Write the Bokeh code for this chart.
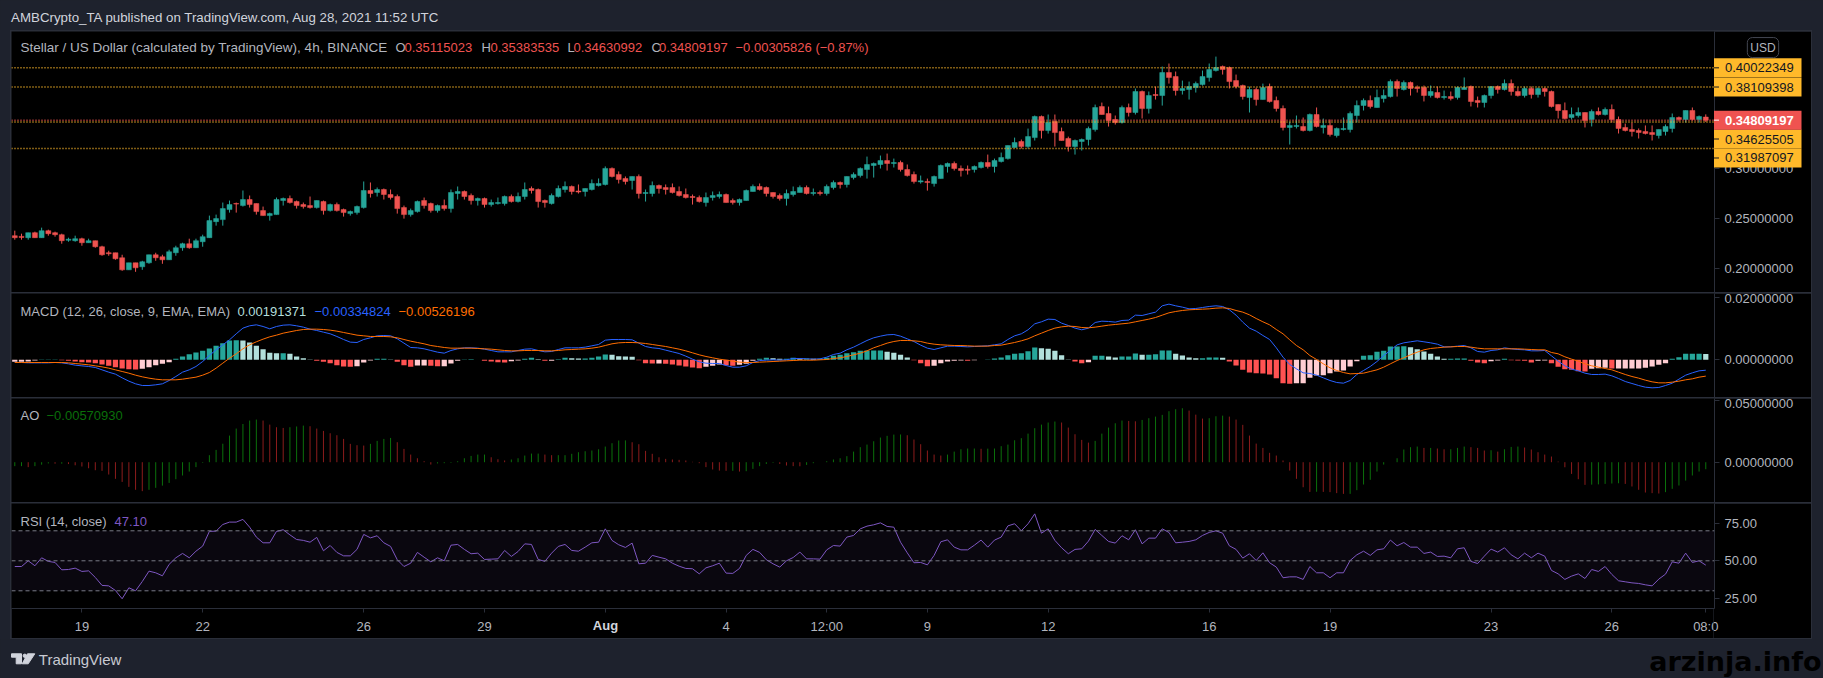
from bokeh.plotting import figure
from bokeh.core.properties import value
from bokeh.models import Range1d, Label, Span, BoxAnnotation, FixedTicker, PrintfTickFormatter, ColumnDataSource, Column
from bokeh.embed import file_html
from bokeh.resources import INLINE

# ---- price data, thousandths of a dollar, one entry per 4h bar ----
open_mil = [233,232.3,231,236,231,238,236,234,228.5,228,230,226,228,222,216,216,211,199,206,202,206,214,212,209,216,221,225,221,227,231,247,249,259,265,263,269,265,258,253,254,268,270,267,264,263,261,267,258,264,259,255,256,261,278,276,279,274,272,261,254,257,268,265,258,
263,260,275,277,273,268,270,264,265,265,272,267,272,280,279,268,265,272,279,282,277.5,277,279,283,284,300,294,290,288,292,275,275,283,281,281,277,274,272,271,266,271,272,274,268,266,268,277,282,281,276,273,270,274,276,281,275,276,275,281,286,284,291,293,
298.9,302.9,303.9,307.8,304.9,305.9,298.9,293.9,286.6,286.9,284.9,289.9,301.9,304.9,299.9,299.2,298.9,300.9,305.9,301.9,306.9,309.8,320.8,326.8,321.8,330.7,351.7,337.7,346.7,336.7,329.8,321.8,326.8,328.8,338.7,361.6,354.7,348.7,345.7,360.6,355.7,376.6,359.6,373.6,372.6,395.5,391.5,377.6,378.6,380.5,383.5,390.5,397.5,401.5,400.5,387.5,382.5,370.6,378.6,368.6,381.5,367.7,359.7,
340.8,341.8,341.8,337.8,353.7,340.8,342.8,332.8,338.8,338.8,352.7,362.7,367.7,360.7,369.6,371.6,386.6,378.6,385.6,380.6,380.6,372.6,375.6,370.6,371.6,370.6,378.6,381.6,367.7,365.7,372.6,381.6,378.6,384.6,376.6,372.6,379.6,373.6,379.6,376.6,363.7,357.7,350.7,352.7,355.7,348.7,356.7,353.7,358.7,348.7,340.8,338.8,337.8,336.8,335.8,332.8,336.8,339.8,350.7,348.7,357.7,348.7,351.15]
high_mil = [238,235,236,237,241,239,237,235,231,233,231,230,228,223,218,216,214,206,206,208,214,216,214,219,223,226,230,230,234,253,254,266,268,266,278,273,265,262,256,271,271,273,268,266,272,268,268,265,266,260,258,263,287,286,281,280,279,274,263,260,268,271,266,264,
269,279,282,278,275,271,271,269,271,273,274,276,286,282,280,269,275,283,287,283,284,280,289,290,302,301,297,292,292,294,279,287,284,284,285,282,280,274,273,276,277,277,275,270,270,279,284,285,282,276,275,279,282,283,283,280,278,284,288,287,292,296,301,
311.8,305.9,312.8,314.8,309.8,307.8,303.9,296.9,292.9,289.9,292.9,303.9,305.9,306.9,302.9,302.9,302.9,306.9,313.8,309.8,315.8,322.8,330.7,328.8,339.7,352.7,352.7,353.7,353.7,340.7,331.7,328.8,329.8,341.7,363.6,365.6,361.6,352.7,362.6,364.6,379.6,377.6,376.6,381.5,401.5,404.5,396.5,387.5,386.5,386.5,397.5,404.5,411.4,402.5,401.5,393.5,383.5,381.5,380.5,384.5,384.5,371.6,362.7,
346.7,352.7,350.7,354.7,360.7,349.7,348.7,340.8,350.7,356.7,367.7,369.7,372.6,378.6,378.6,388.6,388.6,387.6,386.6,382.6,382.6,382.6,381.6,377.6,376.6,381.6,390.6,382.6,371.6,373.6,381.6,382.6,388.6,388.6,380.6,381.6,381.6,380.6,380.6,377.6,363.7,365.7,360.7,360.7,355.7,358.7,360.7,360.7,363.7,351.7,344.7,345.7,339.8,342.8,342.8,338.8,343.8,354.7,351.7,357.7,360.7,352.7,353.84]
low_mil = [229,229,229,231,231,233,232,225,227,227,223,226,221,213,213,209,198,199,197,199,205,208,205,209,213,218,220,221,222,231,243,243,256,256,262,261,254,253,248,254,263,265,260,260,260,260,254,257,257,252,253,254,260,271,272,269,269,255,250,252,256,260,256,256,
258,256,269,269,264,263,261,262,264,263,266,266,269,275,261,261,264,271,276,274,275,272,278,282,283,291,285,284,279,270,267,272,275,274,275,272,270,264,266,262,268,270,266,264,263,268,277,278,272,270,268,263,272,276,274,273,273,273,279,280,281,289,291,
289.9,290.9,299.9,297.9,300.9,296.9,291.9,284.9,284.9,277.9,281.9,289.9,295.9,297.9,291.9,293.9,295.9,299.9,299.9,295.9,305.9,308.8,320.8,319.8,319.8,327.8,329.8,334.7,321.8,327.8,316.8,313.8,317.8,322.8,336.7,353.7,341.7,343.7,344.7,351.7,353.7,349.7,354.7,368.6,362.6,384.5,372.6,373.6,368.6,375.6,382.5,386.5,396.5,393.5,379.6,379.6,368.6,355.7,362.6,368.6,365.6,356.7,337.8,
323.8,339.8,336.8,336.8,340.8,334.8,331.8,330.8,337.8,335.8,345.7,357.7,359.7,360.7,365.7,370.6,371.6,377.6,372.6,375.6,366.7,370.6,369.6,368.6,367.7,368.6,378.6,361.7,360.7,360.7,369.6,374.6,377.6,372.6,371.6,370.6,369.6,370.6,371.6,360.7,349.7,348.7,348.7,350.7,340.8,341.8,352.7,352.7,345.7,334.8,336.8,331.8,329.8,333.8,327.8,329.8,332.8,335.8,346.7,345.7,347.7,345.7,346.31]
close_mil = [231,231.3,236,231,238,235,234,228,229.5,230,226,228,222,214,215,210,199,206,201,207,214,211,209,217,221,225,221,228,232,248,250,260,264,264.5,269,264,257,253,255,269,270,266,263,262,261,268,258,264,258,256,257,262,278,275,279,274,271,260,254,258,267,263,258,263,
260,276,277,272,268,270,264,266,266,272,267,272,279,278,267,266,273,280,282,277,276.5,280,285,285,300,292,289,287,292,275,276,283,280,279,276,273,271,271,267,271,273,274,266,266,269,278,282,279,275,272,270,275,277,281,275,276,275,282,286,284,292,294,300,
303.9,304.9,307.8,304.9,305.9,298.9,292.9,286.9,287.6,285.9,291.9,302.9,304.9,299.9,297.9,298.2,301.9,305.9,301.9,307.8,310.8,322.8,325.8,321.8,331.7,351.7,337.7,345.7,335.7,327.8,321.8,327.8,328.8,339.7,360.6,353.7,347.7,345.7,360.6,355.7,376.6,359.6,372.6,372.6,395.5,390.5,377.6,379.6,381.5,384.5,391.5,398.5,400.5,398.5,386.5,381.5,371.6,378.6,368.6,380.5,366.6,359.7,340.8,
342.8,342.8,337.8,353.7,341.8,342.8,333.8,339.8,339.8,354.7,362.7,367.7,361.7,370.6,372.6,386.6,379.6,385.6,379.6,379.6,372.6,376.6,370.6,371.6,369.6,380.6,380.6,366.7,365.7,372.6,381.6,378.6,384.6,376.6,372.6,379.6,373.6,379.6,376.6,361.7,357.7,349.7,353.7,355.7,347.7,356.7,353.7,358.7,348.7,339.8,337.8,336.8,335.8,334.8,333.8,338.8,341.8,350.7,348.7,357.7,348.7,351.7,348.09]

# ---- MACD, units of 0.0001 ----
macd_line = [-8.6,-8.6,-9.7,-9.7,-9.7,-9.7,-8.6,-9.7,-12.9,-17.2,-19.4,-21.5,-24.7,-32.3,-39.8,-46.2,-58.1,-68.8,-77.4,-82.8,-82.8,-80.6,-77.4,-66.7,-53.8,-39.8,-32.3,-21.5,-5.4,14,32.3,48.4,64.5,83.9,102.2,109.7,112.9,107.5,100,107.5,111.8,112.9,109.7,105.4,98.9,94.6,89.2,83.9,75.3,65.6,57,55.9,65.6,71,77.4,78.5,77.4,67.7,53.8,39.8,38.7,35.5,30.1,24.7,21.5,30.1,35.5,38.7,38.7,37.6,34.4,30.1,25.8,25.8,25.8,30.1,34.4,35.5,30.1,25.8,26.9,33.3,38.7,38.7,38.7,40.9,45.2,49.5,63.4,65.6,65.6,65.6,64.5,53.8,43,38.7,36.6,31.2,25.8,20.4,11.8,2.2,-6.5,-10.8,-11.8,-11.8,-18.3,-23.7,-23.7,-19.4,-8.6,-2.2,-1.1,0,-1.1,0,4.3,4.3,3.2,2.2,3.2,8.6,17.2,21.5,32.3,40.9,51.6,62.4,71,76.3,80.6,81.7,
76.3,67.7,59.1,47.3,37.6,33.3,38.7,44.1,44.1,43,41.9,43,44.1,45.2,48.4,51.6,65.6,77.4,83.9,96.8,116.1,122.6,131.2,130.1,118.3,110.8,102.2,96.8,102.2,120.4,124.7,123.7,121.5,126.9,128,144.1,143,148.4,153.8,174.2,179.6,174.2,169.9,164.5,165.6,168.8,172,174.2,172,161.3,144.1,121.5,102.2,92.5,78.5,65.6,38.7,8.6,-15.1,-29,-41.9,-44.1,-49.5,-58.1,-66.7,-73.1,-75.3,-66.7,-47.3,-34.4,-21.5,-5.4,14,30.1,48.4,54.8,58.1,61.3,58.1,54.8,50.5,41.9,41.9,44.1,46.2,38.7,26.9,24.7,30.1,32.3,38.7,35.5,33.3,32.3,29,29,30.1,12.9,-4.3,-19.4,-30.1,-35.5,-43,-47.3,-47.3,-46.2,-51.6,-60.2,-69.9,-76.3,-82.8,-88.2,-90.3,-89.2,-82.8,-75.3,-62.4,-49.5,-41.9,-35.5,-33.5]
macd_signal = [-8.6,-8.6,-8.6,-8.6,-8.6,-8.6,-8.6,-8.6,-9.7,-11.8,-14,-16.1,-19.4,-22.6,-26.9,-32.3,-37.6,-43,-49.5,-54.8,-59.1,-62.4,-64.5,-64.5,-64.5,-62.4,-59.1,-55.9,-49.5,-40.9,-26.9,-10.8,5.4,19.4,35.5,48.4,58.1,66.7,74.2,79.6,86,90.3,94.6,97.8,98.9,98.9,97.8,95.7,92.5,88.2,83.9,79.6,77.4,75.3,75.3,75.3,74.2,71,65.6,60.2,55.9,51.6,46.2,43,39.8,37.6,37.6,37.6,37.6,36.6,35.5,34.4,32.3,30.1,29,29,30.1,30.1,30.1,29,29,30.1,32.3,33.3,34.4,35.5,37.6,40.9,46.2,51.6,54.8,55.9,55.9,54.8,52.7,49.5,46.2,43,38.7,34.4,29,22.6,16.1,10.8,6.5,2.2,-1.1,-4.3,-7.5,-8.6,-8.6,-7.5,-6.5,-5.4,-4.3,-3.2,-2.2,-1.1,-1.1,-1.1,0,1.1,4.3,6.5,10.8,16.1,21.5,29,38.7,46.2,53.8,59.1,
62.4,62.4,61.3,59.1,53.8,50.5,48.4,47.3,46.2,46.2,45.2,44.1,44.1,44.1,46.2,47.3,51.6,55.9,61.3,67.7,77.4,86,94.6,102.2,106.4,108.6,107.5,104.3,103.2,105.4,108.6,111.8,114,116.1,118.3,122.6,126.9,131.2,136.5,144.1,151.6,155.9,159.1,161.3,162.4,163.4,164.5,166.6,167.7,165.6,159.1,153.8,145.1,133.3,122.6,112.9,97.8,83.9,64.5,46.2,32.3,14,1.1,-12.9,-25.8,-34.4,-40.9,-45.2,-44.1,-43,-37.6,-32.3,-23.7,-12.9,-2.2,6.5,16.1,24.7,32.3,36.6,38.7,40.9,41.9,43,43,40.9,37.6,35.5,35.5,35.5,35.5,35.5,35.5,34.4,33.3,32.3,32.3,23.7,19.4,9.7,2.2,-4.3,-12.9,-19.4,-23.7,-28,-32.3,-39.8,-47.3,-53.8,-59.1,-65.6,-71,-74.2,-74.2,-72,-68.8,-64.5,-61.3,-55.9,-52.6]
macd_hist = [-6.5,-6.5,-5.4,-2.2,1.1,1.1,1.1,-1.1,-3.2,-5.4,-7.5,-8.6,-10.8,-15,-19.4,-23.7,-28,-30.1,-31.2,-29,-23.7,-17.2,-12.9,-7.5,3.2,10.8,18.3,23.7,29,36.6,45.2,53.8,62.4,63.4,62.4,55.9,45.2,34.4,22.6,21.5,21.5,19.4,10.8,5.4,1.1,-3.2,-6.5,-10.8,-17.2,-21.5,-22.6,-20.4,-8.6,-2.2,3.2,3.2,1.1,-6.5,-17.2,-22.6,-18.3,-18.3,-19.4,-20.4,-20.4,-11.8,-3.2,1.1,2.2,0,-3.2,-5.4,-7.5,-8.6,-4.3,-2.2,3.2,6.5,2.2,-3.2,-3.2,2.2,6.5,5.4,4.3,4.3,6.5,10.8,17.2,16.1,11.8,10.8,9.7,-1.1,-10.8,-11.8,-11.8,-12.9,-15,-18.3,-21.5,-24.7,-26.9,-22.6,-19.4,-15,-17.2,-19.4,-16.1,-12.9,-3.2,3.2,6.5,5.4,3.2,3.2,6.5,4.3,4.3,3.2,3.2,6.5,12.9,16.1,21.5,24.7,29,30.1,30.1,30.1,25.8,22.6,16.1,7.5,-1.1,-10.8,-20.4,-19.4,-10.8,-5.4,-3.2,-2.2,-3.2,-1.1,0,1.1,4.3,7.5,15,19.4,21.5,28,39.8,37.6,35.5,29,15,1.1,-5.4,-10.8,-7.5,12.9,12.9,10.8,7.5,10.8,10.8,20.4,16.1,16.1,18.3,30.1,30.1,19.4,14,7.5,5.4,5.4,7.5,7.5,6.5,-5.4,-18.3,-32.3,-40.9,-43,-44.1,-47.3,-59.1,-75.3,-77.4,-75.3,-75.3,-58.1,-50.5,-49.5,-43,-37.6,-34.4,-21.5,-4.3,12.9,15,25.8,29,43,43,44.1,40.9,34.4,26.9,19.4,10.8,3.2,3.2,4.3,4.3,-3.2,-8.6,-10.8,-4.3,-2.2,3.2,-1.1,-2.2,-3.2,-8.6,-3.2,-2.2,-10.8,-22.6,-30.1,-32.3,-36.6,-37.6,-29,-26.9,-25.8,-28,-28,-28,-28,-28,-25.8,-21.5,-16.1,-10.8,3.2,8.6,19.4,19.4,19.4,19.1]

# ---- Awesome Oscillator, units of 0.001 ----
ao_vals = [-3.2,-3.2,-4,-3.2,-2,-1,-1.2,-1.2,-1.5,-2.5,-3.5,-4.9,-6.5,-7,-10,-13.5,-16,-20,-22.4,-23.5,-22.4,-20.8,-19,-16.8,-13.8,-10.8,-7.6,-4,-0.5,5.7,10,15,21.6,27.3,31,33.8,34.6,33.8,30.5,28.4,27.8,28.4,29,29.7,29.2,27.3,25.4,23.5,21.9,18.9,14.9,13.8,13.5,14.9,17.3,18.9,19.7,16.2,10.8,6.2,3.2,0.8,-1.9,-1,-0.8,-0.5,0.8,3.2,5.1,6.2,6.2,4,2.4,1.4,2.2,3.2,5.4,7,7,6.2,5.7,5.7,5.7,6.8,8.1,8.9,9.5,10.5,12.7,15.4,17.6,17.7,16.2,14.6,9.2,6.8,4,2.7,2.2,1.9,1.4,0.3,-0.8,-4,-5.9,-6.8,-7,-7,-7.6,-7.3,-5.4,-3.2,-1.4,-0.5,-1.4,-2.7,-3.2,-3.3,-2.2,-0.8,0,0.8,2.2,3.2,4.9,8.6,12.2,14.3,17,20,21.4,22.4,22.5,
21.9,18.4,14.6,9.5,6.2,5.4,6.2,8.6,10.5,11.1,11.1,10.9,11,11.1,13,14.3,17.8,19.5,23.2,27.6,30.5,32.2,33,32.2,28.1,22.7,18.1,15.9,17.3,23.2,28.1,31.6,33.8,33.5,33.2,34.3,35.7,37,38.4,41.4,43,43.8,41.9,38.6,35.4,35.7,37.3,37.8,37,34.6,30.3,21.6,15.1,11.6,7.6,5.4,1.4,-6.8,-13.5,-20.3,-24.1,-24,-24.1,-24.3,-25.1,-25.7,-25.7,-22.7,-18.1,-14.3,-7.6,-1.9,0,3.2,10.3,12.2,12.7,11.6,11.6,11.1,10.5,10.5,11.6,12.7,12.2,11.6,9.5,9.7,8.6,10.5,12.4,12.7,11.9,10.3,8.1,6.2,4.6,0.5,-4.1,-9.5,-13.8,-18.4,-18.2,-18,-17.6,-17.3,-17.1,-17.6,-19.7,-22.4,-24.6,-25.1,-25.4,-24.3,-21.6,-18.9,-14.9,-10.8,-7.6,-5.7]

# ---- RSI ----
rsi_vals = [46.2,46.2,50,46.7,52,49.6,48.9,44,44.2,45.1,42.9,43.3,38.9,33.6,33.3,30.2,24.7,32,30,36.2,43.1,42,40,47.6,52,54.9,52,56.4,59.8,69.6,69.8,74.2,75.8,75.8,77.6,72.4,65.8,62,62,69.6,70.7,67.3,64.2,63.6,62.4,65.6,56.7,60.2,55.6,53.3,53.3,57.6,67.6,65.3,66.7,62,59.6,50.7,46.2,48.4,55.6,52.4,49.3,52,50,60.4,60.9,57.6,54.7,55.1,50.9,51.1,51.3,56.9,52.9,56.2,61.3,60.9,50.9,49.6,55.1,59.6,60.9,56.9,56.4,59.1,62,62.4,71.3,63.6,60.7,58.9,61.8,48,48.4,53.6,52.4,51.3,48.4,46.4,44.9,44.7,41.3,45.3,46.7,48.4,41.8,41.6,44.9,53.6,57.6,55.6,50.7,48,45.8,50,52.2,55.8,51.3,51.3,51.1,57.3,60.2,59.8,65.8,66.9,71.3,73.1,74,75.3,72.9,72.4,
62.4,55.3,48.7,48.9,47.3,53.6,62.7,64,59.1,57.3,57.3,60.4,63.8,59.1,63.8,65.8,73.3,74.7,70,74.7,81.3,68.4,71.3,63.6,58.7,54.7,57.6,58,63.1,70.9,66.9,62.9,61.8,66.7,64,70.7,61.3,65.1,65.1,71.3,68.9,62,62.4,62.9,64,66.9,68.9,70,68.4,60,57.6,51.8,54.7,50.2,55.3,48.7,45.8,38.7,39.3,39.3,37.6,46.2,42,42,38.7,42,42,50.2,54,56.4,53.6,57.3,58,63.8,60,62.2,59.1,59.1,54.9,55.8,52.9,53.1,52,58,58.7,49.6,48.2,53.1,57.8,55.8,58.7,54,51.3,55.1,52,55.1,53.1,43.6,41.3,37.6,39.8,41.3,38.2,44.2,42.9,46.2,40.9,36.7,36,35.3,34.9,34,33.3,37.8,41.1,49.3,48.4,55.1,48.9,50,47.1]

# ---- levels, ticks, labels ----
level_vals = [0.40022349, 0.38109398, 0.34625505, 0.31987097]
last_close = 0.34809197
tag_labels = ["0.40022349", "0.38109398", "0.34809197", "0.34625505", "0.31987097"]
tag_centres = [0.40022349, 0.38109398, 0.34809197, 0.3293, 0.3104]   # the price scale pushes the lower two tags apart
time_ticks = [10, 28, 52, 70, 88, 106, 121, 136, 154, 178, 196, 220, 238, 252]
time_labels = ["19", "22", "26", "29", "", "4", "12:00", "9", "12", "16", "19", "23", "26", "08:0"]

lens = {a: len(b) for a, b in dict(o=open_mil, h=high_mil, l=low_mil, c=close_mil, m=macd_line, s=macd_signal, hist=macd_hist, ao=ao_vals, rsi=rsi_vals).items()}
assert len(set(lens.values())) == 1, str(lens)
n = len(close_mil)

BG = "#1e222d"; GRID = "#2a2e39"; TXT = "#b2b5be"; UP = "#26a69a"; DOWN = "#ef5350"; GOLD = "#ffb92a"
FONT = "Liberation Sans"
X_END = 253.3
xr = Range1d(-0.49, X_END)

def pane(h, yr, ticks, fmt, bottom=0):
    p = figure(width=1800, height=h + bottom, x_range=xr, y_range=Range1d(*yr), output_backend="svg", toolbar_location=None,
               y_axis_location="right", x_axis_location="below" if bottom else None, background_fill_color="black",
               border_fill_color="black", outline_line_color=None, min_border_left=0, min_border_right=97,
               min_border_top=0, min_border_bottom=bottom, margin=0)
    p.grid.visible = False
    ax = p.yaxis[0]
    ax.ticker = FixedTicker(ticks=ticks)
    ax.formatter = PrintfTickFormatter(format=fmt)
    ax.axis_line_color = GRID; ax.major_tick_line_color = GRID; ax.minor_tick_line_color = None
    ax.major_tick_out = 5; ax.major_tick_in = 0
    ax.major_label_text_color = TXT; ax.major_label_text_font = FONT; ax.major_label_text_font_size = "13px"
    ax.major_label_standoff = 5
    return p

def txt(p, x, y, s, color=TXT, size="13px", style="normal", align="left"):
    """x, y are measured from the frame's left and top."""
    fh = p.height - (p.min_border_top or 0) - (p.min_border_bottom or 0)
    p.add_layout(Label(x=x, y=fh - y, x_units="screen", y_units="screen", text=s, text_color=color, text_font=FONT,
                       text_font_size=size, text_font_style=style, text_baseline="middle", text_align=align))

def overlay(w, h, left, top, xrange, yrange):
    o = figure(width=w, height=h, x_range=xrange, y_range=yrange, output_backend="svg", toolbar_location=None,
               x_axis_location=None, y_axis_location=None, background_fill_alpha=0, border_fill_alpha=0, outline_line_color=None,
               min_border=0, margin=0, frame_align=False,
               styles={"position": "absolute", "left": f"{left}px", "top": f"{top}px", "z-index": "5"})
    o.grid.visible = False
    return o

k = list(range(n))
# ---- main pane ----
main = pane(261, (0.1764, 0.4364), [0.2, 0.25, 0.3, 0.35, 0.4], "%.8f")
src = ColumnDataSource(dict(
    k=k, o=[v / 1000 for v in open_mil], h=[v / 1000 for v in high_mil], l=[v / 1000 for v in low_mil], c=[v / 1000 for v in close_mil],
    col=[UP if c >= o else DOWN for o, c in zip(open_mil, close_mil)]))
for lv in level_vals:
    main.add_layout(Span(location=lv, dimension="width", line_color=GOLD, line_dash="1 2", line_width=1.5))
main.add_layout(Span(location=last_close, dimension="width", line_color=DOWN, line_dash="1 2", line_width=1.5))
main.segment("k", "h", "k", "l", color="col", line_width=1, source=src)
main.vbar(x="k", top="o", bottom="c", width=0.74, fill_color="col", line_color="col", line_width=0.5, source=src)
txt(main, 9, 16, "Stellar / US Dollar (calculated by TradingView), 4h, BINANCE", size="13.5px")
for x, s, c in [(384, "O", TXT), (393, "0.35115023", DOWN), (470, "H", TXT), (479, "0.35383535", DOWN), (556, "L", TXT), (562, "0.34630992", DOWN),
                (640, "C", TXT), (647.5, "0.34809197", DOWN), (724, "\u22120.00305826 (\u22120.87%)", DOWN)]:
    txt(main, x, 16, s, c)

# ---- overlay on the price scale: tags share the main pane's y range ----
tags = overlay(98, 261, 1713, 31, Range1d(0, 98), main.y_range)
half = 0.00948
tag_fill = [GOLD, GOLD, DOWN, GOLD, GOLD]
tag_ink = ["#131722", "#131722", "white", "#131722", "#131722"]
draw_order = [0, 1, 3, 4, 2]
tsrc = ColumnDataSource(dict(
    b=[tag_centres[i] - half for i in draw_order], t=[tag_centres[i] + half for i in draw_order], y=[tag_centres[i] for i in draw_order],
    s=[tag_labels[i] for i in draw_order], f=[tag_fill[i] for i in draw_order], ink=[tag_ink[i] for i in draw_order],
    st=["bold" if i == 2 else "normal" for i in draw_order]))
tags.quad(left=0.5, right=88, bottom="b", top="t", fill_color="f", line_color=None, source=tsrc)
tags.segment(x0=0.5, y0="y", x1=5.5, y1="y", line_color="ink", line_width=1, source=tsrc)
tags.text(x=11.5, y="y", text="s", text_color="ink", text_font=value(FONT), text_font_size="13px", text_font_style="st",
          text_baseline="middle", text_align="left", source=tsrc)
tags.add_layout(Label(x=49.5, y=0.4204, x_units="data", y_units="data", text="USD", text_color=TXT, text_font=FONT, text_font_size="12px",
                      text_align="center", text_baseline="middle", border_line_color="#434651", border_radius=5, padding=(3, 3, 3, 3)))

# ---- MACD pane ----
mp = pane(104, (-121.5e-4, 213.9e-4), [0, 0.02], "%.8f")
hcol = []
for i, h in enumerate(macd_hist):
    prev = macd_hist[i - 1] if i else h
    if h >= 0:
        hcol.append(UP if h >= prev else "#b2dfdb")
    else:
        hcol.append("#ffcdd2" if h >= prev else "#ff5252")
msrc = ColumnDataSource(dict(k=k, h=[v * 1e-4 for v in macd_hist], m=[v * 1e-4 for v in macd_line], s=[v * 1e-4 for v in macd_signal], c=hcol))
mp.vbar(x="k", top="h", bottom=0, width=0.78, fill_color="c", line_color=None, source=msrc)
mp.line("k", "m", color="#2962ff", line_width=1, source=msrc)
mp.line("k", "s", color="#ff6d00", line_width=1, source=msrc)
txt(mp, 9, 18, "MACD (12, 26, close, 9, EMA, EMA)")
txt(mp, 226, 18, "0.00191371", "#b2dfdb")
txt(mp, 303, 18, "\u22120.00334824", "#2962ff")
txt(mp, 387, 18, "\u22120.00526196", "#ff6d00")

# ---- AO pane ----
ap = pane(104, (-0.0327, 0.0517), [0, 0.05], "%.8f")
acol = ["#0b700b" if i == 0 or v >= ao_vals[i - 1] else "#8c1c1c" for i, v in enumerate(ao_vals)]
ap.segment(k, [0] * n, k, [v * 1e-3 for v in ao_vals], color=acol, line_width=1)
txt(ap, 9, 17, "AO")
txt(ap, 35, 17, "\u22120.00570930", "#0a6e0a")

# ---- RSI pane with the time axis ----
rp = pane(105, (18.2, 88.2), [25, 50, 75], "%.2f", bottom=30)
rp.add_layout(BoxAnnotation(bottom=30, top=70, fill_color="#7e57c2", fill_alpha=0.08, line_color=None))
for lv in [30, 50, 70]:
    rp.add_layout(Span(location=lv, dimension="width", line_color="#787b86", line_dash="4 3", line_width=1))
rp.line(k, rsi_vals, color="#7e57c2", line_width=1)
xa = rp.xaxis[0]
xa.ticker = FixedTicker(ticks=time_ticks)
xa.major_label_overrides = {t: s for t, s in zip(time_ticks, time_labels)}
xa.axis_line_color = GRID; xa.major_tick_line_color = GRID; xa.minor_tick_line_color = None
xa.major_tick_out = 4; xa.major_tick_in = 0
xa.major_label_text_color = TXT; xa.major_label_text_font = FONT; xa.major_label_text_font_size = "13px"
xa.major_label_standoff = 6
txt(rp, 9, 18, "RSI (14, close)")
txt(rp, 103, 18, "47.10", "#7e57c2")

# bold month label over the Aug tick of the time axis
aug = overlay(50, 20, 580, 615, Range1d(0, 50), Range1d(0, 20))
aug.text(x=[25], y=[10], text=["Aug"], text_color="#d1d4dc", text_font=value(FONT), text_font_size="13px", text_font_style="bold",
         text_baseline="middle", text_align="center")

# the price scale's border continues down through the time axis row
rule = overlay(1, 30, 1713, 608, Range1d(0, 1), Range1d(0, 1))
rule.background_fill_color = GRID
rule.background_fill_alpha = 1

# ---- header and footer ----
def band(h):
    p = figure(width=1823, height=h, x_range=Range1d(0, 1823), y_range=Range1d(h, 0), output_backend="svg", toolbar_location=None,
               x_axis_location=None, y_axis_location=None, background_fill_color=BG, border_fill_color=BG, outline_line_color=None,
               min_border=0)
    p.grid.visible = False
    return p

head = band(30)
txt(head, 10.6, 17, "AMBCrypto_TA published on TradingView.com, Aug 28, 2021 11:52 UTC", "#d1d4dc", "13.3px")
foot = band(39)
foot.patch([11, 21, 21, 15.7, 15.7, 11], [14.3, 14.3, 24.3, 24.3, 17.7, 17.7], color="#d1d4dc")
foot.patch([27, 34.3, 27.7, 21.7], [14.3, 14.3, 24.3, 24.3], color="#d1d4dc")
foot.circle(x=[24.3], y=[16.3], radius=1.7, color="#d1d4dc")
txt(foot, 38.3, 20, "TradingView", "#c8cad2", "15px")
foot.add_layout(Label(x=1821, y=17, x_units="screen", y_units="screen", text="arzinja.info", text_color="#000000", text_font="DejaVu Sans",
                      text_font_size="27px", text_font_style="bold", text_align="right", text_baseline="middle"))

inner = Column(children=[main, mp, ap, rp], spacing=1, width=1800, height=607, margin=1, styles={"background-color": GRID})
chart = Column(children=[inner], width=1802, height=609, margin=(0, 11, 0, 10), styles={"background-color": GRID})
root = Column(children=[head, chart, foot, tags, aug, rule], spacing=0, width=1823, styles={"background-color": BG})
open("out.html", "w").write(file_html(root, INLINE))
